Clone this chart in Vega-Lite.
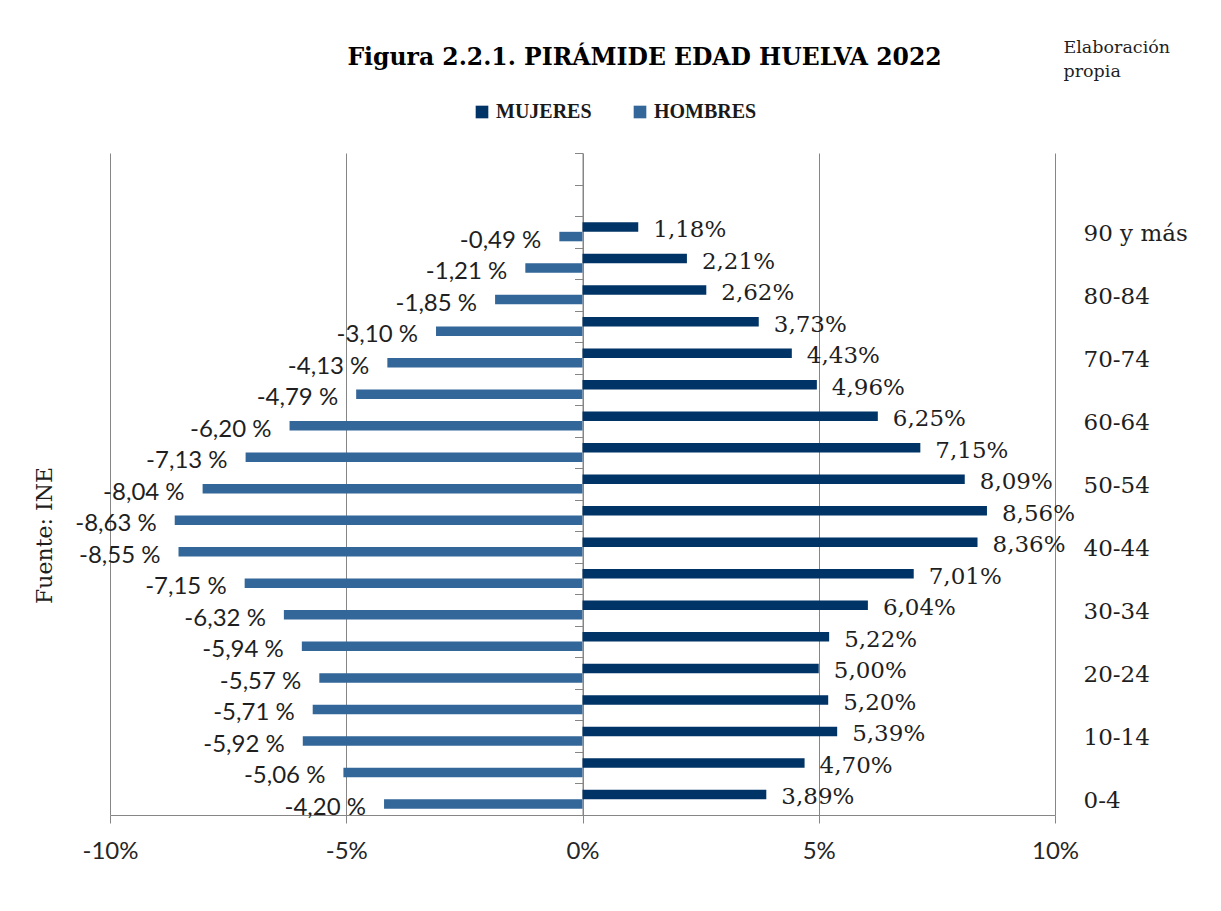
{
  "$schema": "https://vega.github.io/schema/vega-lite/v6.json",
  "width": 945,
  "height": 662,
  "autosize": {"type": "none"},
  "padding": {"left": 110, "top": 153, "right": 166, "bottom": 96},
  "background": "white",
  "title": {
    "text": "Figura 2.2.1. PIRÁMIDE EDAD HUELVA 2022",
    "font": "DejaVu Serif",
    "fontSize": 23.5,
    "fontWeight": "bold",
    "color": "#000000",
    "anchor": "middle",
    "frame": "group",
    "dx": 62,
    "dy": 41,
    "offset": 10
  },
  "config": {"view": {"stroke": null}},
  "data": {
    "values": [
      {"edad": "0-4", "sexo": "MUJERES", "valor": 3.89},
      {"edad": "5-9", "sexo": "MUJERES", "valor": 4.70},
      {"edad": "10-14", "sexo": "MUJERES", "valor": 5.39},
      {"edad": "15-19", "sexo": "MUJERES", "valor": 5.20},
      {"edad": "20-24", "sexo": "MUJERES", "valor": 5.00},
      {"edad": "25-29", "sexo": "MUJERES", "valor": 5.22},
      {"edad": "30-34", "sexo": "MUJERES", "valor": 6.04},
      {"edad": "35-39", "sexo": "MUJERES", "valor": 7.01},
      {"edad": "40-44", "sexo": "MUJERES", "valor": 8.36},
      {"edad": "45-49", "sexo": "MUJERES", "valor": 8.56},
      {"edad": "50-54", "sexo": "MUJERES", "valor": 8.09},
      {"edad": "55-59", "sexo": "MUJERES", "valor": 7.15},
      {"edad": "60-64", "sexo": "MUJERES", "valor": 6.25},
      {"edad": "65-69", "sexo": "MUJERES", "valor": 4.96},
      {"edad": "70-74", "sexo": "MUJERES", "valor": 4.43},
      {"edad": "75-79", "sexo": "MUJERES", "valor": 3.73},
      {"edad": "80-84", "sexo": "MUJERES", "valor": 2.62},
      {"edad": "85-89", "sexo": "MUJERES", "valor": 2.21},
      {"edad": "90 y más", "sexo": "MUJERES", "valor": 1.18},
      {"edad": "0-4", "sexo": "HOMBRES", "valor": -4.20},
      {"edad": "5-9", "sexo": "HOMBRES", "valor": -5.06},
      {"edad": "10-14", "sexo": "HOMBRES", "valor": -5.92},
      {"edad": "15-19", "sexo": "HOMBRES", "valor": -5.71},
      {"edad": "20-24", "sexo": "HOMBRES", "valor": -5.57},
      {"edad": "25-29", "sexo": "HOMBRES", "valor": -5.94},
      {"edad": "30-34", "sexo": "HOMBRES", "valor": -6.32},
      {"edad": "35-39", "sexo": "HOMBRES", "valor": -7.15},
      {"edad": "40-44", "sexo": "HOMBRES", "valor": -8.55},
      {"edad": "45-49", "sexo": "HOMBRES", "valor": -8.63},
      {"edad": "50-54", "sexo": "HOMBRES", "valor": -8.04},
      {"edad": "55-59", "sexo": "HOMBRES", "valor": -7.13},
      {"edad": "60-64", "sexo": "HOMBRES", "valor": -6.20},
      {"edad": "65-69", "sexo": "HOMBRES", "valor": -4.79},
      {"edad": "70-74", "sexo": "HOMBRES", "valor": -4.13},
      {"edad": "75-79", "sexo": "HOMBRES", "valor": -3.10},
      {"edad": "80-84", "sexo": "HOMBRES", "valor": -1.85},
      {"edad": "85-89", "sexo": "HOMBRES", "valor": -1.21},
      {"edad": "90 y más", "sexo": "HOMBRES", "valor": -0.49}
    ]
  },
  "encoding": {
    "x": {
      "field": "valor",
      "type": "quantitative",
      "scale": {"domain": [-10, 10], "nice": false, "zero": false},
      "axis": {
        "title": null,
        "values": [-10, -5, 0, 5, 10],
        "labelExpr": "datum.value + '%'",
        "grid": true,
        "gridColor": "#868686",
        "gridOpacity": 1,
        "domain": true,
        "domainColor": "#868686",
        "ticks": true,
        "tickColor": "#868686",
        "tickSize": 8,
        "labelFont": "Lato",
        "labelFontSize": 24,
        "labelColor": "#262626",
        "labelPadding": 16,
        "labelFlush": false
      }
    }
  },
  "layer": [
    {
      "mark": {"type": "bar"},
      "encoding": {
        "y": {
          "field": "edad",
          "type": "nominal",
          "scale": {
            "domain": ["·2", "·1", "90 y más", "85-89", "80-84", "75-79", "70-74", "65-69", "60-64", "55-59", "50-54", "45-49", "40-44", "35-39", "30-34", "25-29", "20-24", "15-19", "10-14", "5-9", "0-4"],
            "paddingInner": 0,
            "paddingOuter": 0
          },
          "axis": {
            "orient": "left",
            "offset": -472.5,
            "title": null,
            "labels": false,
            "ticks": true,
            "tickBand": "extent",
            "tickSize": 8,
            "tickColor": "#868686",
            "domain": true,
            "domainColor": "#868686",
            "grid": false
          }
        },
        "yOffset": {
          "field": "sexo",
          "type": "nominal",
          "scale": {"domain": ["MUJERES", "HOMBRES"], "paddingInner": 0, "paddingOuter": 0.66}
        },
        "color": {
          "field": "sexo",
          "type": "nominal",
          "scale": {"domain": ["MUJERES", "HOMBRES"], "range": ["#003366", "#336699"]},
          "legend": {
            "orient": "none",
            "legendX": 362,
            "legendY": -51,
            "direction": "horizontal",
            "title": null,
            "symbolType": "square",
            "symbolSize": 160,
            "symbolStrokeWidth": 0,
            "labelFont": "Liberation Serif",
            "labelFontWeight": "bold",
            "labelFontSize": 20,
            "labelColor": "#1a1a1a",
            "labelOffset": 4,
            "columnPadding": 38
          }
        }
      }
    },
    {
      "transform": [
        {"filter": "datum.sexo === 'MUJERES'"},
        {"calculate": "replace(format(datum.valor, '.2f'), '.', ',') + '%'", "as": "etiqueta"}
      ],
      "mark": {"type": "text", "align": "left", "baseline": "middle", "dx": 15, "dy": 3, "font": "DejaVu Serif", "fontSize": 23, "color": "#1f1f1f"},
      "encoding": {
        "y": {
          "field": "edad",
          "type": "nominal",
          "scale": {
            "domain": ["·2", "·1", "90 y más", "85-89", "80-84", "75-79", "70-74", "65-69", "60-64", "55-59", "50-54", "45-49", "40-44", "35-39", "30-34", "25-29", "20-24", "15-19", "10-14", "5-9", "0-4"],
            "paddingInner": 0,
            "paddingOuter": 0
          },
          "axis": {
            "orient": "right",
            "values": ["90 y más", "80-84", "70-74", "60-64", "50-54", "40-44", "30-34", "20-24", "10-14", "0-4"],
            "ticks": false,
            "domain": false,
            "grid": false,
            "labelPadding": 28,
            "labelOffset": 2,
            "labelAlign": "left",
            "labelFont": "DejaVu Serif",
            "labelFontSize": 23,
            "labelColor": "#1f1f1f",
            "title": ["Elaboración", "propia"],
            "titleAngle": 0,
            "titleAlign": "left",
            "titleBaseline": "alphabetic",
            "titleX": 8,
            "titleY": -101,
            "titleFont": "DejaVu Serif",
            "titleFontSize": 17.5,
            "titleFontWeight": "normal",
            "titleColor": "#1f1f1f",
            "titleLineHeight": 24
          }
        },
        "yOffset": {
          "field": "sexo",
          "type": "nominal",
          "scale": {"domain": ["MUJERES", "HOMBRES"], "paddingInner": 0, "paddingOuter": 0.66}
        },
        "text": {"field": "etiqueta", "type": "nominal"}
      }
    },
    {
      "transform": [
        {"filter": "datum.sexo === 'HOMBRES'"},
        {"calculate": "'-' + replace(format(-datum.valor, '.2f'), '.', ',') + ' %'", "as": "etiqueta"}
      ],
      "mark": {"type": "text", "align": "right", "baseline": "middle", "dx": -18, "dy": 4, "font": "Lato", "fontSize": 24, "color": "#1f1f1f"},
      "encoding": {
        "y": {
          "field": "edad",
          "type": "nominal",
          "scale": {
            "domain": ["·2", "·1", "90 y más", "85-89", "80-84", "75-79", "70-74", "65-69", "60-64", "55-59", "50-54", "45-49", "40-44", "35-39", "30-34", "25-29", "20-24", "15-19", "10-14", "5-9", "0-4"],
            "paddingInner": 0,
            "paddingOuter": 0
          },
          "axis": {
            "orient": "left",
            "labels": false,
            "ticks": false,
            "domain": false,
            "grid": false,
            "title": "Fuente: INE",
            "titleAngle": -90,
            "titleAlign": "center",
            "titleBaseline": "alphabetic",
            "titleX": -59,
            "titleY": 382,
            "titleFont": "DejaVu Serif",
            "titleFontSize": 22,
            "titleFontWeight": "normal",
            "titleColor": "#1f1f1f"
          }
        },
        "yOffset": {
          "field": "sexo",
          "type": "nominal",
          "scale": {"domain": ["MUJERES", "HOMBRES"], "paddingInner": 0, "paddingOuter": 0.66}
        },
        "text": {"field": "etiqueta", "type": "nominal"}
      }
    }
  ],
  "resolve": {"axis": {"y": "independent"}}
}
